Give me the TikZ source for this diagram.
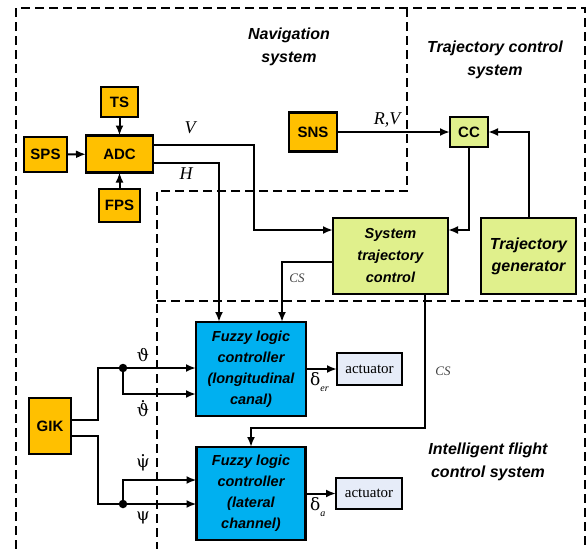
\documentclass[tikz,border=0pt]{standalone}
\usepackage{fontspec}
\setmainfont{Liberation Sans}
\newfontfamily\tnr{Liberation Serif}
\newfontfamily\greek{DejaVu Serif}
\usetikzlibrary{arrows.meta}
\definecolor{orangebox}{HTML}{FFC000}
\definecolor{greenbox}{HTML}{E0F08C}
\definecolor{bluebox}{HTML}{00B0F0}
\definecolor{actbox}{HTML}{E6ECF8}
\newcommand{\dotted}[2]{\ooalign{#2\cr\hidewidth\raisebox{#1}{.}\hidewidth\cr}}
\tikzset{
  blk/.style={draw=black, line width=2.4pt, inner sep=0pt, outer sep=0pt, align=center},
  obox/.style={blk, fill=orangebox, font=\fontsize{15}{17}\selectfont\bfseries},
  gbox/.style={blk, fill=greenbox, font=\fontsize{14.5}{22}\selectfont\bfseries\itshape},
  fbox/.style={blk, fill=bluebox, font=\fontsize{14.5}{21}\selectfont\bfseries\itshape},
  abox/.style={draw=black, line width=2.2pt, fill=actbox, inner sep=0pt, outer sep=0pt, font=\tnr\fontsize{15}{17}\selectfont},
  conn/.style={line width=2pt},
  arr/.style={conn, -{Latex[length=10pt,width=8pt]}},
  frame/.style={dash pattern=on 9pt off 5pt, line width=1.5pt},
  head/.style={align=center, font=\fontsize{16}{23}\selectfont\bfseries\itshape},
  sig/.style={font=\tnr\itshape\fontsize{18}{20}\selectfont, inner sep=0pt},
  gsig/.style={font=\greek\fontsize{17}{20}\selectfont, inner sep=0pt},
  dot/.style={circle, fill=black, inner sep=0pt, minimum size=8.5pt}
}
\begin{document}
\begin{tikzpicture}[x=1pt,y=-1pt]
\useasboundingbox (0,0) rectangle (587,549);
% dashed frames
\draw[frame] (16,549) -- (16,8) -- (585,8) -- (585,549);
\draw[frame] (407,8) -- (407,191) -- (157,191) -- (157,549);
\draw[frame] (157,301) -- (585,301);
% headings
\node[head] (navh) at (289,47) {Navigation\\system};
\node[head] (trah) at (495,60) {Trajectory control\\system};
\node[head] (ifch) at (488,462) {Intelligent flight\\control system};
% blocks
\node[obox, minimum width=37pt, minimum height=30pt] (TS) at (119.5,102) {TS};
\node[obox, minimum width=43pt, minimum height=35pt] (SPS) at (45.5,154.5) {SPS};
\node[obox, minimum width=67pt, minimum height=37pt] (ADC) at (119.5,154) {ADC};
\node[obox, minimum width=41pt, minimum height=33pt] (FPS) at (119.5,205.5) {FPS};
\node[obox, minimum width=48pt, minimum height=39pt] (SNS) at (313,132) {SNS};
\node[obox, minimum width=42pt, minimum height=56pt] (GIK) at (50,426) {GIK};
\node[gbox, minimum width=38pt, minimum height=30pt, font=\fontsize{15}{17}\selectfont\bfseries] (CC) at (469,132) {CC};
\node[gbox, minimum width=115pt, minimum height=76pt] (STC) at (390.5,256) {System\\trajectory\\control};
\node[gbox, minimum width=95pt, minimum height=76pt, font=\fontsize{16}{22}\selectfont\bfseries\itshape] (TG) at (528.5,256) {Trajectory\\generator};
\node[fbox, minimum width=110pt, minimum height=94pt] (FL1) at (251,369) {Fuzzy logic\\controller\\(longitudinal\\canal)};
\node[fbox, minimum width=109pt, minimum height=93pt] (FL2) at (251,493.5) {Fuzzy logic\\controller\\(lateral\\channel)};
\node[abox, minimum width=65pt, minimum height=32pt] (A1) at (369.5,369) {actuator};
\node[abox, minimum width=66pt, minimum height=31pt] (A2) at (369,493.5) {actuator};
% connectors
\draw[arr] (TS) -- (ADC);
\draw[arr] (SPS) -- (ADC);
\draw[arr] (FPS) -- (ADC);
\draw[arr] (ADC.east |- 0,145) -- (254,145) -- (254,230) -- (STC.west |- 0,230);
\draw[arr] (ADC.east |- 0,163) -- (219,163) -- (FL1.north -| 219,0);
\draw[arr] (SNS) -- (CC);
\draw[arr] (CC.south) |- (STC.east |- 0,230);
\draw[arr] (TG.north) |- (CC.east);
\draw[arr] (STC.west |- 0,262) -- (282,262) -- (FL1.north -| 282,0);
\draw[arr] (STC.south -| 425,0) -- (425,428) -| (FL2.north);
\draw[arr] (FL1) -- (A1);
\draw[arr] (FL2) -- (A2);
\node[dot] (d1) at (123,368) {};
\node[dot] (d2) at (123,504) {};
\draw[arr] (GIK.east |- 0,420) -- (98,420) -- (98,368) -- (FL1.west |- 0,368);
\draw[arr] (d1.center) -- (123,394) -- (FL1.west |- 0,394);
\draw[arr] (GIK.east |- 0,436) -- (98,436) -- (98,504) -- (FL2.west |- 0,504);
\draw[arr] (d2.center) -- (123,480) -- (FL2.west |- 0,480);
% labels
\node[sig] (lV) at (190,128) {V};
\node[sig] (lH) at (186,174) {H};
\node[sig] (lRV) at (387,120) {R,V};
\node[sig, font=\tnr\itshape\fontsize{13}{15}\selectfont, text=black!75] (lcs1) at (297,278) {CS};
\node[sig, font=\tnr\itshape\fontsize{13}{15}\selectfont, text=black!75] (lcs2) at (443,371) {CS};
\node[gsig] (lth) at (143,355) {ϑ};
\node[gsig] (lthd) at (143,410) {\dotted{0.82em}{ϑ}};
\node[gsig] (lpsd) at (143,463) {\dotted{0.62em}{ψ}};
\node[gsig] (lps) at (143,518) {ψ};
\node[gsig, anchor=west] (lde) at (310,382) {δ\raisebox{-0.6ex}{\tnr\itshape\fontsize{10}{12}\selectfont er}};
\node[gsig, anchor=west] (lda) at (310,507) {δ\raisebox{-0.6ex}{\tnr\itshape\fontsize{10}{12}\selectfont a}};
\end{tikzpicture}
\end{document}
